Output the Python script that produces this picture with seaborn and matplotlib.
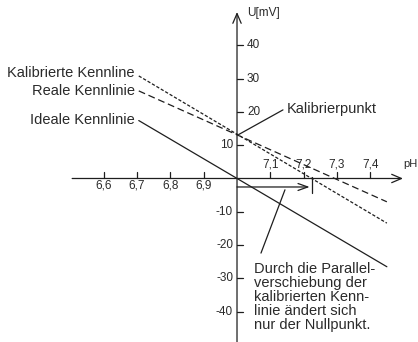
import matplotlib
matplotlib.use("Agg")
import matplotlib.pyplot as plt
import seaborn as sns
import pandas as pd

# pH range covered by the three characteristic lines
ph = [6.705, 7.45]
# Voltage (mV) at both ends of each characteristic
ideal = [17.4, -26.5]
calibrated = [30.8, -13.4]
real = [26.3, -7.0]

x_ticks = [6.6, 6.7, 6.8, 6.9, 7.1, 7.2, 7.3, 7.4]
x_tick_labels = ["6,6", "6,7", "6,8", "6,9", "7,1", "7,2", "7,3", "7,4"]
y_ticks = [40, 30, 20, 10, -10, -20, -30, -40]
y_tick_labels = ["40", "30", "20", "10", "-10", "-20", "-30", "-40"]

calib_point = (7.0, 13.2)
zero_shift = 7.224

sns.set_style("white")
plt.rcParams["font.family"] = ["Liberation Sans", "DejaVu Sans"]

ink = "#1e1e1e"
txt = "#2a2a2a"

fig = plt.figure(figsize=(4.18, 3.42), dpi=100)
ax = fig.add_axes([0, 0, 1, 1])
ax.set_xlim(6.2883, 7.5435)
ax.set_ylim(-49.1, 53.6)
ax.axis("off")

df = pd.DataFrame({"pH": ph, "ideal": ideal, "calibrated": calibrated, "real": real})
sns.lineplot(data=df, x="pH", y="ideal", ax=ax, color=ink, lw=0.9)
sns.lineplot(data=df, x="pH", y="calibrated", ax=ax, color=ink, lw=0.9,
             linestyle=(0, (2.6, 1.5)))
sns.lineplot(data=df, x="pH", y="real", ax=ax, color=ink, lw=0.9,
             linestyle=(0, (5.5, 3.0)))

# coordinate axes with open arrowheads
arrow = dict(arrowstyle="->,head_length=0.7,head_width=0.3", color=ink, lw=0.9,
             shrinkA=0, shrinkB=0)
ax.annotate("", xy=(7.4985, 0), xytext=(6.505, 0), arrowprops=arrow)
ax.annotate("", xy=(7.0, 50.0), xytext=(7.0, -49.1), arrowprops=arrow)
ax.text(7.5005, 4.3, "pH", fontsize=8, color=txt, ha="left", va="center")
ax.text(7.030, 49.6, "U[mV]", fontsize=8.5, color=txt, ha="left", va="center")

# x ticks point upward; labels below on the left, above on the right
for v, lab in zip(x_ticks, x_tick_labels):
    ax.plot([v, v], [0, 1.9], color=ink, lw=0.9)
    if v < 7:
        ax.text(v, -2.1, lab, fontsize=8.5, color=txt, ha="center", va="center")
    else:
        ax.text(v, 4.1, lab, fontsize=8.5, color=txt, ha="center", va="center")

# y ticks point right; labels right for the upper values, left otherwise
for v, lab in zip(y_ticks, y_tick_labels):
    ax.plot([7.0, 7.019], [v, v], color=ink, lw=0.9)
    if v >= 20:
        ax.text(7.030, v, lab, fontsize=8.5, color=txt, ha="left", va="center")
    else:
        ax.text(6.988, v, lab, fontsize=8.5, color=txt, ha="right", va="center")

# line labels
ax.text(6.693, 31.7, "Kalibrierte Kennline", fontsize=10.5, color=txt, ha="right", va="center")
ax.text(6.693, 26.3, "Reale Kennlinie", fontsize=10.5, color=txt, ha="right", va="center")
ax.text(6.693, 17.6, "Ideale Kennlinie", fontsize=10.5, color=txt, ha="right", va="center")

# calibration point
ax.plot([calib_point[0] + 0.005, 7.138], [calib_point[1], 20.6], color=ink, lw=0.9)
ax.text(7.150, 20.9, "Kalibrierpunkt", fontsize=10.5, color=txt, ha="left", va="center")

# zero point shift
ax.annotate("", xy=(zero_shift - 0.006, -2.55), xytext=(7.0, -2.55),
            arrowprops=dict(arrowstyle="->,head_length=0.7,head_width=0.25",
                            color=ink, lw=0.9, shrinkA=0, shrinkB=0))
ax.plot([zero_shift, zero_shift], [0.4, -4.4], color=ink, lw=0.9)
ax.plot([7.072, 7.144], [-22.4, -3.4], color=ink, lw=0.9)
ax.text(7.051, -35.6,
        "Durch die Parallel-\nverschiebung der\nkalibrierten Kenn-\nlinie ändert sich\nnur der Nullpunkt.",
        fontsize=10.5, color=txt, ha="left", va="center", linespacing=1.0)

fig.savefig("out.png", dpi=100)
